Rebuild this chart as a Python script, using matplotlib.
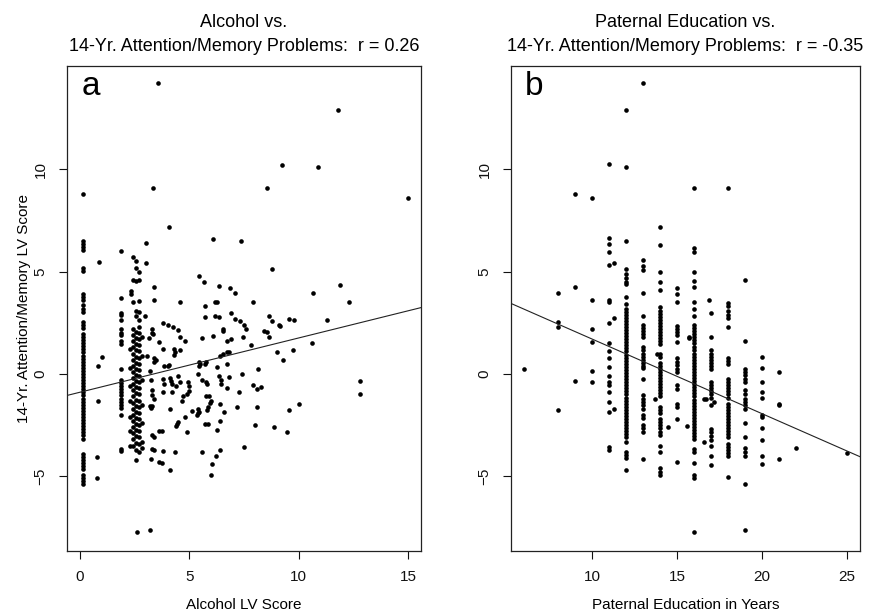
import matplotlib
matplotlib.use("Agg")
import matplotlib.pyplot as plt
import numpy as np

plt.rcParams['font.family'] = ['Liberation Sans', 'DejaVu Sans']

# ---------------- Panel a: Alcohol LV score vs attention/memory score ----------------
# non-drinkers column (alcohol score ~0)
alc_zero_x = 0.15
alc_zero_y = [8.8, 6.5, 6.35, 6.2, 6.05, 5.2, 5.05, 3.9, 3.75, 3.6, 3.35, 3.2, 3.05,
              2.55, 2.4, 2.25, 1.95, 1.8, 1.65, 1.5, 1.35, 1.2, 1.05, 0.9, 0.75, 0.6,
              0.45, 0.3, 0.15, 0.0, -0.15, -0.3, -0.45, -0.6, -0.75, -0.9, -1.05, -1.2,
              -1.35, -1.5, -1.65, -1.8, -1.95, -2.1, -2.25, -2.4, -2.55, -2.7, -2.85,
              -3.0, -3.2, -3.9, -4.05, -4.2, -4.35, -4.5, -4.65, -4.95, -5.1, -5.25, -5.4]
# column near 1.85
alc_c18_x = 1.85
alc_c18_y = [6.0, 3.7, 3.0, 2.9, 2.65, 2.2, 2.0, 1.9, 1.6, 1.45, 0.25, -0.3, -0.45,
             -0.6, -0.75, -0.9, -1.05, -1.2, -1.35, -1.5, -1.65, -2.0, -3.65, -3.75]
# dense column between 2.3 and 2.85
alc_c23_y = [1.2, 0.3, -0.6, -1.3, -2.1, -2.8, -3.5]
alc_c24_y = [5.7, 4.6, 3.5, 2.2, 1.9, 1.6, 1.3, 1.0, 0.7, 0.4, 0.1, -0.2, -0.5, -0.8,
             -1.1, -1.4, -1.7, -2.0, -2.3, -2.6, -2.9, -3.2, -3.5]
alc_c255_y = [5.5, 5.2, 4.55, 3.1, 2.85, 2.05, 1.75, 1.45, 1.15, 0.85, 0.55, 0.25,
              -0.05, -0.35, -0.65, -0.95, -1.25, -1.55, -1.85, -2.15, -2.45, -2.75,
              -3.05, -3.35, -3.7, -4.2]
alc_c27_y = [5.0, 4.6, 3.55, 3.05, 2.65, 2.3, 2.0, 1.7, 1.4, 1.1, 0.8, 0.5, 0.2, -0.1,
             -0.4, -0.7, -1.0, -1.3, -1.6, -1.9, -2.2, -2.5, -2.8, -3.1, -3.4, -3.8]
alc_c285_y = [1.8, 0.9, -0.3, -1.5, -2.4, -3.3, -3.6]
alc_c23_x, alc_c24_x, alc_c255_x, alc_c27_x, alc_c285_x = 2.3, 2.4, 2.55, 2.7, 2.85
# scattered points
alc_other_x = [3.55, 11.8, 9.25, 10.9, 3.33, 8.56, 15.0, 4.08, 6.1, 7.37, 3.03, 0.86, 3.03,
               8.8, 5.43, 5.66, 3.4, 6.36, 6.87, 7.08, 11.9, 10.66, 3.4, 4.56, 6.15, 6.25,
               7.9, 12.3, 5.7, 6.9, 2.95, 5.72, 6.15, 6.35, 8.65, 8.8, 9.57, 9.77, 11.3,
               2.34, 2.34,
               3.3, 3.35, 3.17, 3.3, 3.8, 4.0, 4.25, 4.5, 4.55, 4.8, 3.6, 3.8, 4.3, 4.35,
               4.3, 4.55, 3.06, 3.4, 3.45, 3.4, 3.85, 4.0, 4.05, 3.2, 3.25, 3.8, 3.85, 4.1,
               4.15, 4.2, 4.5, 4.55, 4.4, 4.95, 5.0, 5.0, 4.9, 3.8, 4.2, 3.3, 3.3, 3.4, 4.7,
               4.65, 3.2, 3.25, 3.3, 4.1, 5.1, 5.4, 5.45, 4.8, 4.5, 4.45, 4.4, 4.9, 3.6,
               3.75, 3.3, 3.4, 3.3, 3.4, 3.8, 4.35, 3.25, 3.6, 3.75, 4.1, 2.6, 3.2,
               5.45, 5.5, 5.45, 5.75, 5.7, 5.4, 5.6, 5.75, 5.8, 5.75, 5.9, 6.0, 5.95, 5.85,
               5.8, 5.4, 5.35, 5.7, 5.85, 5.6, 6.0, 6.05, 6.2, 6.4, 6.27, 6.4, 6.6, 6.4,
               6.45, 6.45, 6.35, 6.27, 6.4, 6.55, 6.7, 6.8, 6.7, 6.7, 6.9, 6.7, 6.8, 5.6,
               6.1, 6.55, 6.55, 7.1, 7.3, 7.5, 7.6, 7.45, 7.8, 7.4, 7.25, 7.2, 7.5, 7.9,
               8.1, 8.3, 8.15, 8.1, 8.0, 8.4, 8.55, 8.65, 9.1, 9.15, 9.0, 9.3, 9.75, 8.85,
               9.45, 9.55, 10.0, 10.6, 12.8, 12.8, 1.0, 0.8, 0.8, 0.77, 0.77]
alc_other_y = [14.2, 12.9, 10.2, 10.1, 9.1, 9.1, 8.6, 7.2, 6.6, 6.5, 6.4, 5.45, 5.4,
               5.15, 4.8, 4.5, 4.25, 4.3, 4.2, 3.95, 4.35, 3.95, 3.6, 3.5, 3.5, 3.5,
               3.5, 3.5, 3.3, 3.0, 2.85, 2.8, 2.85, 2.8, 2.85, 2.6, 2.7, 2.65, 2.65,
               4.05, 3.9,
               2.0, 1.95, 1.75, 2.2, 2.5, 2.4, 2.3, 2.15, 1.8, 1.6, 1.55, 1.2, 1.2, 1.05,
               0.95, 1.15, 0.9, 0.8, 0.7, 0.6, 0.4, 0.4, 0.45, 0.15, -0.3, -0.25, -0.5, -0.2,
               -0.35, -0.5, -0.1, -0.4, -0.6, -0.4, -0.6, -0.85, -1.0, -0.9, -0.9, -0.8, -1.05, -1.2, -1.1,
               -1.3, -1.55, -1.65, -1.55, -1.7, -1.8, -1.7, -1.85, -2.1, -2.35, -2.45, -2.55, -2.85, -2.8,
               -2.8, -3.0, -3.1, -3.65, -3.7, -3.75, -3.8, -4.15, -4.3, -4.35, -4.7, -7.7, -7.6,
               0.4, 0.5, 0.6, 0.6, 0.5, 0.0, -0.3, -0.4, -0.5, -1.1, -1.1, -1.3, -1.4, -1.6,
               -1.75, -1.9, -2.0, -2.45, -2.45, -3.8, -4.95, -4.4, -4.0, -3.7, -2.75, -2.3, -1.85, -1.45,
               -0.3, -0.5, -0.1, 0.35, 0.9, 1.0, 1.05, 1.05, 0.5, 1.6, 1.7, -0.7, -0.15, 1.75,
               1.85, 2.1, 2.2, 2.7, 2.6, 2.4, 2.2, 1.8, 1.4, 0.0, -0.9, -1.6, -3.55, -0.55,
               -0.75, -0.65, 0.25, -1.6, -2.5, 2.1, 2.05, 1.8, 2.4, 2.35, 1.05, 0.7, 1.15, -2.6,
               -2.85, -1.75, -1.45, 1.5, -0.35, -1.0, 0.85, 0.37, -1.33, -4.06, -5.06]
alc_fit = (-0.89, 0.265)     # intercept, slope of regression line

# ---------------- Panel b: Paternal education vs attention/memory score ----------------
edu_c6 = [0.25]
edu_c8 = [3.95, 2.55, 2.3, -1.75]
edu_c9 = [8.8, 4.25, -0.35]
edu_c10 = [8.6, 3.6, 2.2, 1.55, 0.15, -0.4]
edu_c11 = [10.25, 6.65, 6.35, 5.95, 5.35, 3.6, 3.5, 2.5, 1.5, 1.1, 0.8, 0.35, -0.1,
           -0.4, -0.55, -0.9, -1.35, -1.85, -3.55, -3.7]
edu_c113 = [5.4, 2.75, -1.7]
edu_c12 = [12.9, 10.1, 6.5, 5.15, 4.9, 4.7, 4.5, 4.4, 3.75, 3.4, 3.2, 3.05, 2.9, 2.75,
           2.6, 2.45, 2.3, 2.15, 2.0, 1.85, 1.7, 1.55, 1.4, 1.25, 1.1, 0.95, 0.8, 0.65,
           0.5, 0.35, 0.2, 0.05, -0.1, -0.25, -0.4, -0.55, -0.7, -0.85, -1.0, -1.15, -1.3,
           -1.45, -1.6, -1.75, -1.9, -2.05, -2.2, -2.35, -2.5, -2.65, -2.8, -2.95, -3.1,
           -3.3, -3.8, -3.95, -4.1, -4.7]
edu_c13 = [14.2, 5.55, 5.3, 5.1, 3.95, 2.85, 2.4, 2.25, 2.1, 1.95, 1.8, 1.3, 1.15, 1.0,
           0.85, 0.7, 0.55, 0.4, 0.3, -0.25, -1.05, -1.2, -1.35, -1.5, -1.7, -2.0, -2.15,
           -2.5, -2.65, -2.85, -4.15]
edu_c14 = [7.2, 6.3, 5.0, 4.5, 4.1, 3.25, 3.1, 2.95, 2.8, 2.65, 2.5, 2.35, 2.2, 2.05,
           1.9, 1.75, 1.6, 1.45, 1.0, 0.85, 0.55, 0.4, 0.25, 0.1, -0.05, -0.2, -0.35,
           -0.5, -0.65, -0.8, -0.95, -1.1, -1.6, -1.75, -1.9, -2.2, -2.35, -2.5, -2.65,
           -2.85, -3.0, -3.5, -3.8, -4.6, -4.8, -4.95]
edu_c15 = [4.2, 3.9, 3.5, 2.35, 2.2, 2.05, 1.9, 1.55, 0.8, 0.6, 0.45, 0.25, 0.1, -0.55,
           -0.75, -1.45, -1.6, -2.2, -4.3]
edu_c16 = [9.1, 6.15, 5.95, 5.0, 4.55, 4.25, 3.5, 3.2, 2.85, 2.4, 2.25, 2.1, 1.95, 1.8,
           1.65, 1.5, 1.3, 1.15, 1.0, 0.85, 0.7, 0.55, 0.4, 0.25, 0.1, -0.05, -0.2, -0.35,
           -0.5, -0.65, -0.8, -0.95, -1.1, -1.25, -1.4, -1.55, -1.7, -1.85, -2.0, -2.15,
           -2.3, -2.45, -2.6, -2.75, -2.9, -3.05, -3.2, -3.65, -3.8, -4.35, -4.95, -5.1, -7.7]
edu_c17 = [3.0, 1.8, 1.15, 1.0, 0.85, 0.7, 0.55, 0.4, 0.25, -0.4, -0.55, -0.7, -0.85,
           -1.0, -1.15, -1.5, -2.7, -2.85, -3.05, -3.25, -3.5, -4.0, -4.45]
edu_c18 = [9.1, 3.45, 3.3, 3.1, 2.9, 2.75, 2.3, 0.8, 0.65, 0.5, -0.25, -0.4, -0.55, -0.7,
           -0.85, -1.0, -1.15, -1.45, -1.6, -1.75, -1.9, -2.05, -2.2, -2.35, -2.5, -2.65,
           -2.8, -2.95, -3.1, -3.4, -3.55, -3.7, -3.85, -4.0, -5.05]
edu_c19 = [4.6, 1.6, 0.25, 0.1, -0.05, -0.25, -0.4, -0.8, -1.0, -1.2, -1.35, -1.5, -1.7,
           -2.4, -3.1, -3.6, -3.8, -4.0, -5.4, -7.6]
edu_c20 = [0.85, 0.3, -0.4, -0.9, -1.15, -2.0, -2.1, -2.65, -3.25, -4.0, -4.4]
edu_c21 = [0.1, -1.45, -1.5, -4.15]
edu_c22 = [-3.6]
edu_c25 = [-3.85]
edu_col_years = [6, 8, 9, 10, 11, 11.3, 12, 13, 14, 15, 16, 17, 18, 19, 20, 21, 22, 25]
edu_other_x = [13.7, 13.8, 14.5, 15.6, 15.7, 15.7, 16.6, 16.6, 16.9, 16.7, 17.2]
edu_other_y = [-1.2, 1.0, -2.6, -2.55, 1.8, 1.75, -1.2, -3.3, 3.6, -1.2, -1.35]
edu_fit = (5.36, -0.365)

# ---------------- assemble ----------------
ax_x = ([alc_zero_x] * len(alc_zero_y) + [alc_c18_x] * len(alc_c18_y)
        + [alc_c23_x] * len(alc_c23_y) + [alc_c24_x] * len(alc_c24_y)
        + [alc_c255_x] * len(alc_c255_y) + [alc_c27_x] * len(alc_c27_y)
        + [alc_c285_x] * len(alc_c285_y) + alc_other_x)
ax_y = (alc_zero_y + alc_c18_y + alc_c23_y + alc_c24_y + alc_c255_y + alc_c27_y
        + alc_c285_y + alc_other_y)

edu_cols = [edu_c6, edu_c8, edu_c9, edu_c10, edu_c11, edu_c113, edu_c12, edu_c13,
            edu_c14, edu_c15, edu_c16, edu_c17, edu_c18, edu_c19, edu_c20, edu_c21,
            edu_c22, edu_c25]
bx_x, bx_y = [], []
for yr, col in zip(edu_col_years, edu_cols):
    bx_x += [yr] * len(col)
    bx_y += col
bx_x += edu_other_x
bx_y += edu_other_y

fig = plt.figure(figsize=(8.73, 6.14), dpi=100)
axa = fig.add_axes([67 / 873, 1 - 551 / 614, (421 - 67) / 873, (551 - 66) / 614])
axb = fig.add_axes([511 / 873, 1 - 551 / 614, (860 - 511) / 873, (551 - 66) / 614])

ylim = (-8.65, 15.05)


def style(ax, xlim, xticks):
    ax.set_xlim(*xlim)
    ax.set_ylim(*ylim)
    ax.set_xticks(xticks)
    ax.set_yticks([-5, 0, 5, 10])
    ax.tick_params(direction='out', length=6, width=0.8, labelsize=11, pad=8,
                   colors='#111111')
    for lbl in ax.get_yticklabels():
        lbl.set_rotation(90)
        lbl.set_va('center')
    for s in ax.spines.values():
        s.set_linewidth(0.9)
        s.set_color('#222222')


style(axa, (-0.6, 15.6), [0, 5, 10, 15])
style(axb, (5.24, 25.76), [10, 15, 20, 25])

axa.scatter(ax_x, ax_y, s=11, c='black', linewidths=0)
axb.scatter(bx_x, bx_y, s=11, c='black', linewidths=0)

xs = np.array(axa.get_xlim())
axa.plot(xs, alc_fit[0] + alc_fit[1] * xs, color='#222222', lw=0.8)
xs = np.array(axb.get_xlim())
axb.plot(xs, edu_fit[0] + edu_fit[1] * xs, color='#222222', lw=0.8)

axa.set_title("Alcohol vs.\n14-Yr. Attention/Memory Problems:  r = 0.26",
              fontsize=13, pad=11, linespacing=1.5)
axb.set_title("Paternal Education vs.\n14-Yr. Attention/Memory Problems:  r = -0.35",
              fontsize=13, pad=11, linespacing=1.5)
axa.set_xlabel("Alcohol LV Score", fontsize=11, labelpad=10)
axb.set_xlabel("Paternal Education in Years", fontsize=11, labelpad=10)
axa.set_ylabel("14-Yr. Attention/Memory LV Score", fontsize=11, labelpad=2)

axa.text(0.04, 0.99, "a", transform=axa.transAxes, fontsize=24, va='top', ha='left')
axb.text(0.04, 0.99, "b", transform=axb.transAxes, fontsize=24, va='top', ha='left')

fig.savefig("out.png", dpi=100)
